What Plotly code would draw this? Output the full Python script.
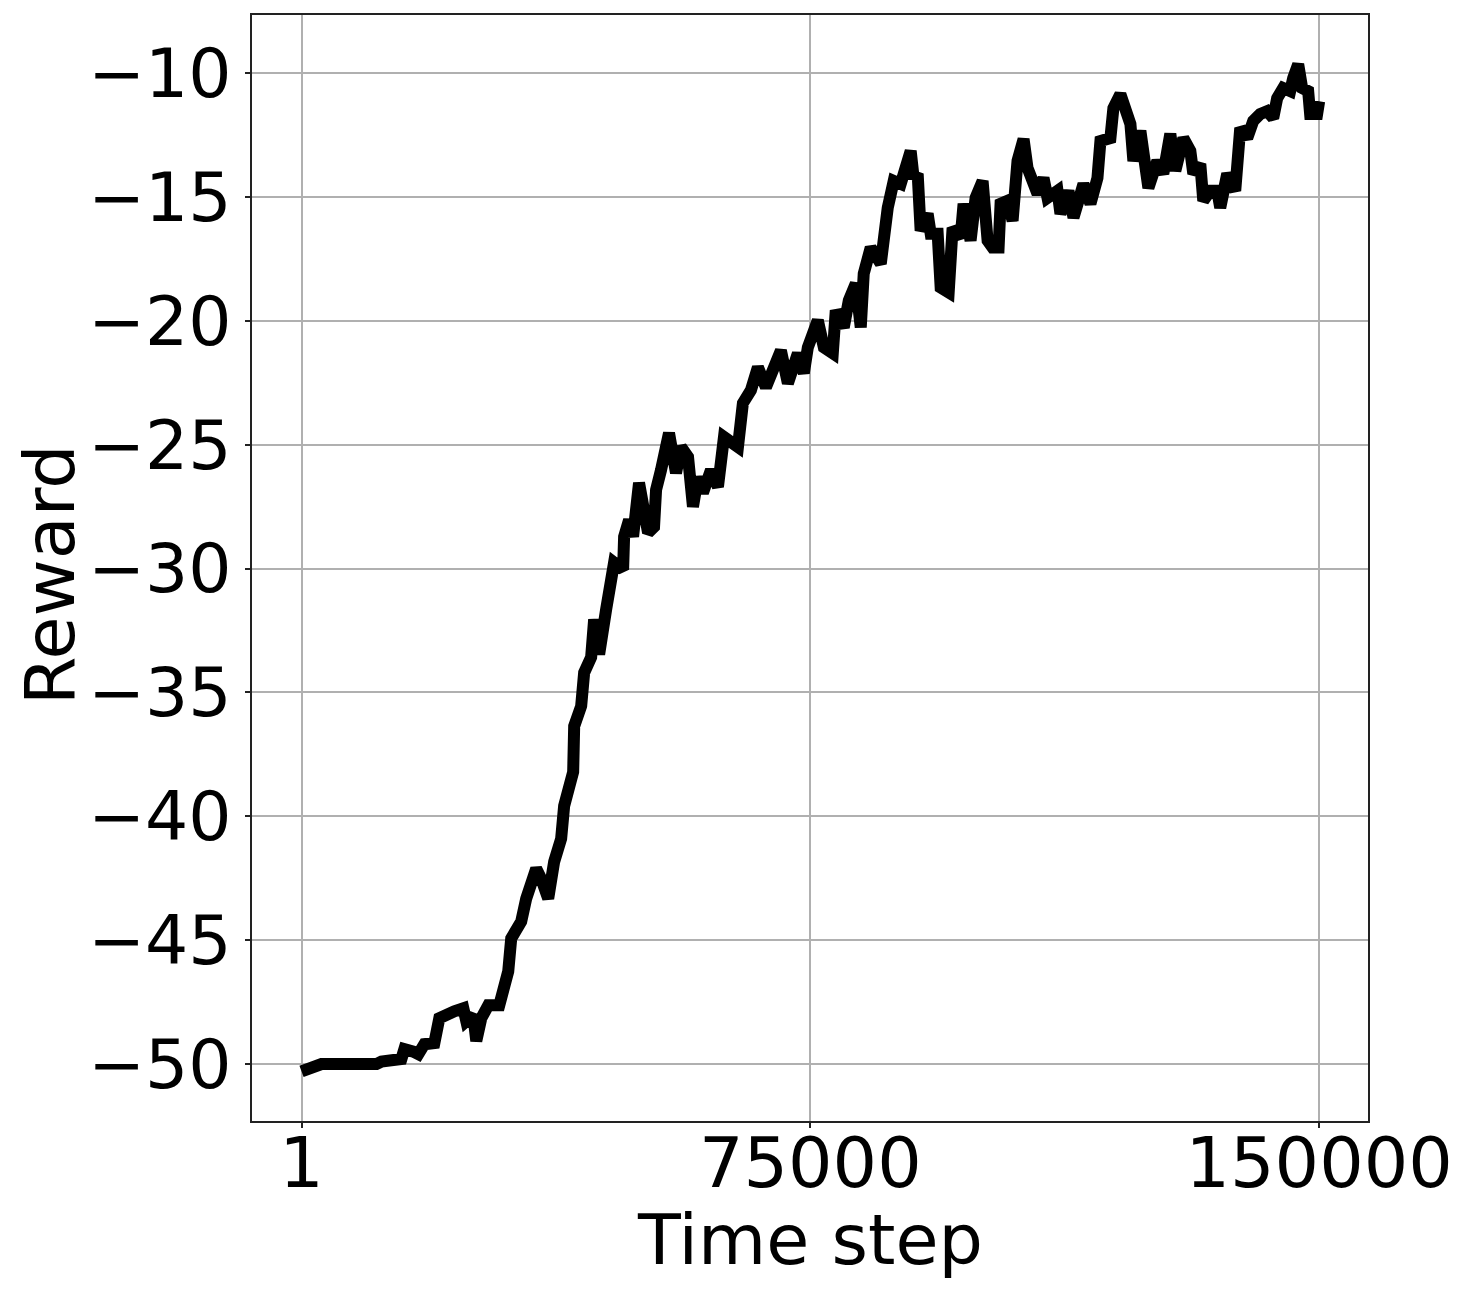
import plotly.graph_objects as go

# Reward curve
steps = [1, 1470, 2940, 11040, 11780, 14720, 15160, 16490, 17220, 18110,
         19580, 20310, 21050, 22520, 23850, 24290, 25320, 25760, 26500, 27530,
         29150, 29730, 30470, 30910, 32380, 33120, 33560, 34590, 35330, 36360,
         37240, 38270, 38710, 39300, 40040, 40190, 41220, 41660, 42690, 43130,
         43870, 44900, 45630, 46070, 47400, 47550, 48280, 48870, 49750, 51080,
         51960, 52260, 52990, 54170, 55200, 55940, 56970, 57700, 58440, 59170,
         60350, 61380, 62270, 64330, 65060, 66240, 67270, 68450, 70660, 71690,
         73160, 74040, 74630, 76100, 76990, 78310, 78750, 79930, 80670, 81700,
         82430, 82870, 83900, 85380, 86410, 87290, 88320, 89790, 90230, 90820,
         91260, 92290, 92740, 93770, 94210, 95390, 95970, 97150, 97590, 98620,
         99360, 100390, 101130, 101860, 102750, 103040, 104070, 104810, 105540, 106430,
         107010, 108490, 109370, 109960, 111430, 111870, 113050, 113790, 115260, 116290,
         117320, 117760, 119230, 119670, 120700, 122180, 122620, 123650, 124830, 126150,
         127030, 128060, 128800, 129980, 131010, 131450, 132480, 132920, 133950, 134980,
         135420, 136450, 137630, 138370, 139400, 140280, 141310, 142340, 143230, 143810,
         144700, 145730, 146170, 146910, 147490, 148380, 148670, 149700, 150000]
reward = [-50.3, -50.1, -50.0, -50.0, -49.9, -49.8, -49.4, -49.5, -49.6, -49.2,
          -49.15, -48.15, -48.03, -47.87, -47.75, -48.27, -48.03, -49.07, -48.15, -47.63,
          -47.63, -47.06, -46.26, -44.93, -44.25, -43.32, -42.8, -42.11, -42.52, -43.32,
          -41.83, -40.9, -39.58, -38.77, -38.21, -36.36, -35.55, -34.2, -33.58, -32.05,
          -33.46, -31.65, -30.44, -29.76, -30.04, -28.71, -28.03, -28.71, -26.54, -28.55,
          -28.31, -26.82, -26.02, -24.53, -26.14, -25.09, -25.49, -27.5, -26.3, -26.94,
          -26.02, -26.7, -24.69, -25.09, -23.32, -22.8, -21.87, -22.68, -21.19, -22.52,
          -21.31, -22.11, -21.07, -19.98, -21.07, -21.31, -19.58, -20.26, -19.17, -18.49,
          -20.26, -18.09, -17.04, -17.69, -15.43, -14.35, -14.47, -13.14, -14.23, -14.06,
          -16.36, -15.67, -16.48, -16.48, -18.65, -18.85, -16.24, -16.64, -15.27, -16.76,
          -15.03, -14.35, -16.76, -17.04, -17.04, -15.27, -15.15, -15.96, -13.54, -12.66,
          -13.82, -14.87, -14.23, -15.03, -14.75, -15.67, -14.75, -15.83, -14.47, -15.27,
          -14.23, -12.74, -12.62, -11.41, -10.85, -12.05, -13.54, -12.33, -14.63, -13.54,
          -14.06, -12.45, -13.94, -12.62, -13.14, -14.06, -13.66, -15.15, -14.75, -14.75,
          -15.43, -14.06, -14.75, -12.21, -12.62, -11.93, -11.65, -11.53, -11.81, -11.01,
          -10.6, -10.72, -10.2, -9.64, -10.6, -10.72, -11.65, -11.65, -11.13]

x_ticks = [1, 75000, 150000]
x_tick_text = ["1", "75000", "150000"]
y_ticks = [-50, -45, -40, -35, -30, -25, -20, -15, -10]

fig = go.Figure()
fig.add_trace(go.Scatter(x=steps, y=reward, mode='lines',
                         line=dict(color='black', width=12), showlegend=False))

axis_style = dict(showline=True, linecolor='#222222', linewidth=1.5, mirror=True,
                  showgrid=True, gridcolor='#b0b0b0', gridwidth=1.5,
                  ticks='outside', ticklen=5, tickwidth=1.5, tickcolor='#222222',
                  zeroline=False)

fig.update_xaxes(range=[-7300, 157200], tickvals=x_ticks, ticktext=x_tick_text,
                 ticklabelstandoff=-25, tickfont=dict(size=70, color='black'),
                 **axis_style)
fig.update_yaxes(range=[-52.3, -7.65], tickvals=y_ticks,
                 ticklabelstandoff=0, tickfont=dict(size=68, color='black'),
                 **axis_style)

# axis titles placed as annotations
fig.add_annotation(text='Time step', xref='paper', yref='paper', x=0.5, y=-0.1074,
                   xanchor='center', yanchor='middle', showarrow=False,
                   font=dict(size=70, color='black'))
fig.add_annotation(text='Reward', xref='paper', yref='paper', x=-0.181, y=0.4937,
                   xanchor='center', yanchor='middle', textangle=-90, showarrow=False,
                   font=dict(size=70, color='black'))

fig.update_layout(width=1465, height=1293,
                  margin=dict(l=244, r=105, t=5, b=180),
                  plot_bgcolor='white', paper_bgcolor='white',
                  font=dict(family='DejaVu Sans', color='black'))

fig.write_html("out.html")
